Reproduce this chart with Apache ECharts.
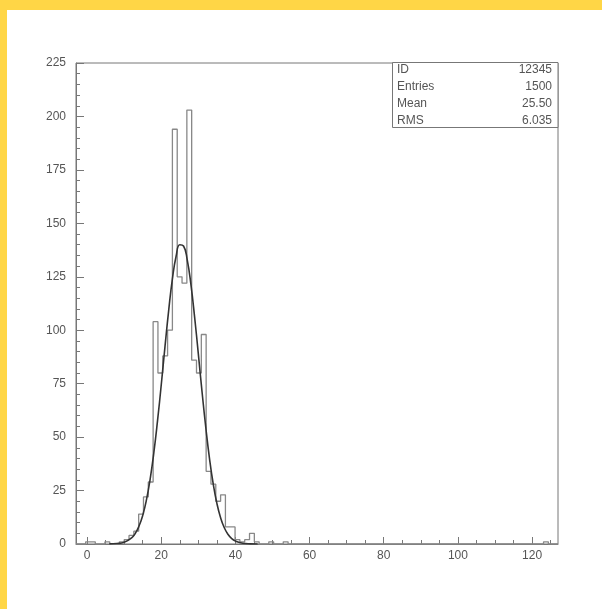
<!DOCTYPE html>
<html>
<head>
<meta charset="utf-8">
<script src="https://cdn.jsdelivr.net/npm/echarts@6/dist/echarts.min.js"></script>
<style>
html,body{margin:0;padding:0;background:#fff;}
#c{width:602px;height:609px;}
</style>
</head>
<body>
<div id="c"></div>
<script>
// Histogram: 100 bins starting at -3, width 1.3
const binStart = -3;
const binWidth = 1.3;
const counts = [
  0, 0, 1, 1, 0, 0, 1, 0, 0, 1,
  2, 4, 6, 14, 22, 29, 104, 80, 88, 100,
  194, 125, 122, 203, 86, 80, 98, 34, 28, 20,
  23, 8, 8, 2, 1, 2, 5, 1, 0, 0,
  1, 0, 0, 1, 0, 0, 0, 0, 0, 0,
  0, 0, 0, 0, 0, 0, 0, 0, 0, 0,
  0, 0, 0, 0, 0, 0, 0, 0, 0, 0,
  0, 0, 0, 0, 0, 0, 0, 0, 0, 0,
  0, 0, 0, 0, 0, 0, 0, 0, 0, 0,
  0, 0, 0, 0, 0, 0, 0, 1, 0, 0
];
// Fitted curve
const fitX = [6, 8, 10, 12, 13, 14, 15, 16, 17, 18, 19, 20, 21, 22, 23, 24, 25, 26, 27, 28, 29, 30, 31, 32, 33, 34, 35, 36, 37, 38, 39, 40, 42, 44, 46];
const fitY = [0.04, 0.2, 0.8, 2.9, 5.0, 8.4, 13.4, 20.6, 30.4, 42.8, 57.8, 74.6, 92.3, 109.3, 124.0, 134.6, 140.0, 139.4, 132.9, 121.3, 106.0, 88.8, 71.1, 54.6, 40.1, 28.2, 19.0, 12.3, 7.6, 4.5, 2.5, 1.4, 0.36, 0.08, 0.01];
// Axis ticks
const xLabels = [0, 20, 40, 60, 80, 100, 120];
const xMinorTicks = [5, 10, 15, 25, 30, 35, 45, 50, 55, 65, 70, 75, 85, 90, 95, 105, 110, 115, 125];
const yLabels = [0, 25, 50, 75, 100, 125, 150, 175, 200, 225];
// Statistics box
const statNames = ['ID', 'Entries', 'Mean', 'RMS'];
const statValues = ['12345', '1500', '25.50', '6.035'];

const histData = counts.map((v, i) => [binStart + i * binWidth, v]);
histData.push([binStart + counts.length * binWidth, 0]);
const fitData = fitX.map((x, i) => [x, fitY[i]]);

const FONT = 'Liberation Sans, Arial, sans-serif';
const TXT = '#555';
const AX = '#777';

const chart = echarts.init(document.getElementById('c'), null, {renderer: 'canvas'});

const statEls = [];
statNames.forEach((n, i) => {
  const cy = 71 + i * 17;
  statEls.push({type: 'text', left: 397, top: cy - 7, z: 10,
    style: {text: n, fill: TXT, font: '12px ' + FONT}});
  statEls.push({type: 'text', right: 50, top: cy - 7, z: 10,
    style: {text: statValues[i], fill: TXT, font: '12px ' + FONT, textAlign: 'right'}});
});

chart.setOption({
  animation: false,
  backgroundColor: '#ffffff',
  grid: {left: 76, top: 63, width: 482, height: 481, show: true, borderColor: AX, borderWidth: 1, backgroundColor: 'transparent'},
  xAxis: [{
    type: 'value', min: -3, max: 127, position: 'bottom',
    axisLine: {show: true, onZero: false, lineStyle: {color: AX}},
    axisTick: {show: true, inside: true, length: 7, customValues: xLabels, lineStyle: {color: AX}},
    axisLabel: {show: true, customValues: xLabels, color: TXT, fontFamily: FONT, fontSize: 12, margin: 6},
    splitLine: {show: false}
  }, {
    type: 'value', min: -3, max: 127, position: 'bottom', gridIndex: 0,
    axisLine: {show: false, onZero: false},
    axisTick: {show: true, inside: true, length: 4, customValues: xMinorTicks, lineStyle: {color: AX}},
    axisLabel: {show: false},
    splitLine: {show: false}
  }],
  yAxis: {
    type: 'value', min: 0, max: 225, interval: 25, position: 'left',
    axisLine: {show: true, onZero: false, lineStyle: {color: AX}},
    axisTick: {show: true, inside: true, length: 8, lineStyle: {color: AX}},
    minorTick: {show: true, splitNumber: 5, length: 4, lineStyle: {color: AX}},
    axisLabel: {color: TXT, fontFamily: FONT, fontSize: 12, margin: 10},
    splitLine: {show: false}
  },
  series: [{
    type: 'line', xAxisIndex: 0, step: 'end', data: histData, symbol: 'none',
    lineStyle: {color: '#888', width: 1.3}, z: 3
  }, {
    type: 'line', xAxisIndex: 0, data: fitData, smooth: true, symbol: 'none',
    lineStyle: {color: '#333', width: 1.6}, z: 4
  }],
  graphic: [
    {type: 'rect', shape: {x: 0, y: 0, width: 602, height: 10}, style: {fill: '#FFD646'}, z: 20},
    {type: 'rect', shape: {x: 0, y: 0, width: 7, height: 609}, style: {fill: '#FFD646'}, z: 20},
    {type: 'rect', shape: {x: 392.5, y: 62.5, width: 165.5, height: 65}, style: {fill: '#fff', stroke: AX, lineWidth: 1}, z: 9}
  ].concat(statEls)
});
</script>
</body>
</html>
